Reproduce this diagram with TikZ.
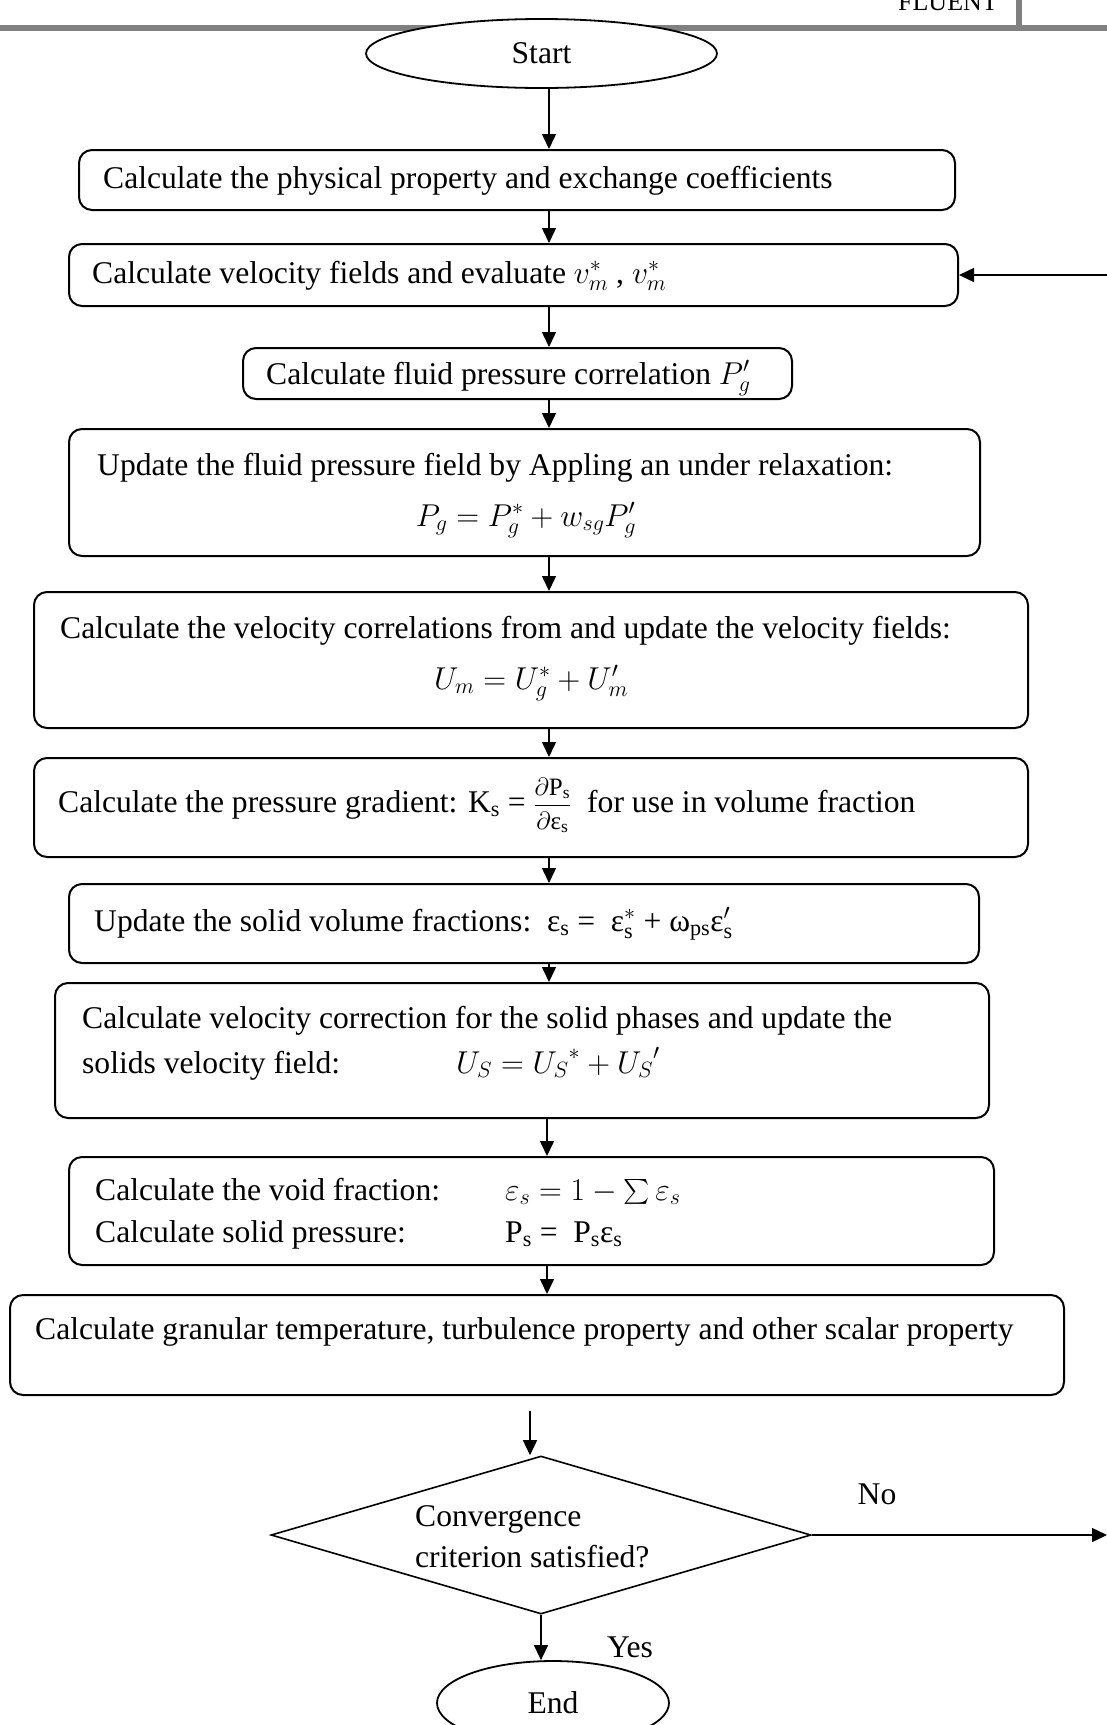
\documentclass[tikz,border=0pt]{standalone}
\usepackage{fix-cm}
\usepackage{amsmath}
\usepackage{fontspec}
\setmainfont{Liberation Serif}
\usetikzlibrary{shapes.geometric,arrows.meta}
\begin{document}
\begin{tikzpicture}[x=1pt,y=-1pt,
  font=\fontsize{31.6}{38}\selectfont,
  box/.style={draw,rounded corners=13pt,line width=2pt,inner sep=0pt},
  txt/.style={inner sep=0pt,anchor=base west},
  arr/.style={line width=1.5pt,-{Triangle[length=15pt,width=14pt]}},
  oval/.style={draw,ellipse,fill=white,line width=1.8pt,inner sep=0pt}]
\useasboundingbox (0,0) rectangle (1107,1725);
% header
\draw[gray,line width=5.7pt] (0,28) -- (1107,28);
\draw[gray,line width=5.7pt] (1019,0) -- (1019,28);
\node[inner sep=0pt,anchor=base east,font=\fontsize{26}{30}\selectfont] (fl) at (998,10) {FLUENT};
% start / end
\node[oval,minimum width=351pt,minimum height=69pt] (st) at (541.5,53.5) {Start};
\node[oval,minimum width=232pt,minimum height=84pt] (en) at (553,1703) {End};
% boxes
\node[box,minimum width=876pt,minimum height=60pt]  (b1) at (517,180) {};
\node[box,minimum width=889pt,minimum height=62pt]  (b2) at (513.5,275) {};
\node[box,minimum width=549pt,minimum height=51pt]  (b3) at (517.5,373.5) {};
\node[box,minimum width=911pt,minimum height=127pt] (b4) at (524.5,492.5) {};
\node[box,minimum width=994pt,minimum height=136pt] (b5) at (531,660) {};
\node[box,minimum width=994pt,minimum height=99pt]  (b6) at (531,807.5) {};
\node[box,minimum width=910pt,minimum height=79pt]  (b7) at (524,923.5) {};
\node[box,minimum width=934pt,minimum height=135pt] (b8) at (522,1050.5) {};
\node[box,minimum width=925pt,minimum height=108pt] (b9) at (531.5,1211) {};
\node[box,minimum width=1054pt,minimum height=100pt] (b10) at (537,1345) {};
\node[draw,diamond,aspect=3.418,minimum width=540pt,minimum height=158pt,inner sep=0pt,line width=1.6pt] (dm) at (541,1535) {};
% texts
\node[txt] (t1) at (103,188) {Calculate the physical property and exchange coefficients};
\node[txt] (t2) at (92,283) {Calculate velocity fields and evaluate $v_m^{*}$ , $v_m^{*}$};
\node[txt] (t3) at (266,384) {Calculate fluid pressure correlation $P_g^{\prime}$};
\node[txt] (t4a) at (97,475) {Update the fluid pressure field by Appling an under relaxation:};
\node[inner sep=0pt,anchor=base] (t4b) at (526,526) {$P_g = P_g^{*} + w_{sg}P_g^{\prime}$};
\node[txt] (t5a) at (60,638) {Calculate the velocity correlations from and update the velocity fields:};
\node[inner sep=0pt,anchor=base] (t5b) at (531,689) {$U_m = U_g^{*} + U_m^{\prime}$};
\node[txt] (t6) at (58,812) {Calculate the pressure gradient: K$_\text{s}$ = {\fontsize{25}{30}\selectfont$\dfrac{\partial\text{P}_\text{s}}{\partial\text{ε}_\text{s}}$}\ \ for use in volume fraction};
\node[txt] (t7) at (94,931) {Update the solid volume fractions:\ \ ε$_\text{s}$ =\ \ ε$_\text{s}^{*}$ + ω$_\text{ps}$ε$_\text{s}^{\prime}$};
\node[txt] (t8a) at (82,1028) {Calculate velocity correction for the solid phases and update the};
\node[txt] (t8b) at (82,1073) {\makebox[374pt][l]{solids velocity field:}$U_S = {U_S}^{*} + {U_S}^{\prime}$};
\node[txt] (t9a) at (95,1200) {\makebox[410pt][l]{Calculate the void fraction:}$\varepsilon_s = 1 - \sum \varepsilon_s$};
\node[txt] (t9b) at (95,1242) {\makebox[410pt][l]{Calculate solid pressure:}P$_\text{s}$ =\ \ P$_\text{s}$ε$_\text{s}$};
\node[txt] (t10) at (35,1339) {Calculate granular temperature, turbulence property and other scalar property};
\node[txt] (td1) at (415,1526) {Convergence};
\node[txt] (td2) at (415,1567) {criterion satisfied?};
\node[inner sep=0pt,anchor=base] (no) at (877,1504) {No};
\node[inner sep=0pt,anchor=base] (yes) at (630,1657) {Yes};
% connectors
\coordinate (ax) at (549,0);
\coordinate (ay) at (547,0);
\draw[arr] (st.south -| ax) -- (b1.north -| ax);
\draw[arr] (b1.south -| ax) -- (b2.north -| ax);
\draw[arr] (b2.south -| ax) -- (b3.north -| ax);
\draw[arr] (b3.south -| ax) -- (b4.north -| ax);
\draw[arr] (b4.south -| ax) -- (b5.north -| ax);
\draw[arr] (b5.south -| ax) -- (b6.north -| ax);
\draw[arr] (b6.south -| ax) -- (b7.north -| ax);
\draw[arr] (b7.south -| ax) -- (b8.north -| ax);
\draw[arr] (b8.south -| ay) -- (b9.north -| ay);
\draw[arr] (b9.south -| ay) -- (b10.north -| ay);
\coordinate (g1) at (530,1411);
\draw[arr] (g1) -- (dm.north -| g1);
\draw[arr] (dm.south) -- (en.north -| dm.south);
\coordinate (nr) at (1107,1535);
\draw[arr] (dm.east) -- (nr);
\coordinate (lr) at (1107,275);
\draw[arr] (lr) -- (b2.east);
\end{tikzpicture}
\end{document}
